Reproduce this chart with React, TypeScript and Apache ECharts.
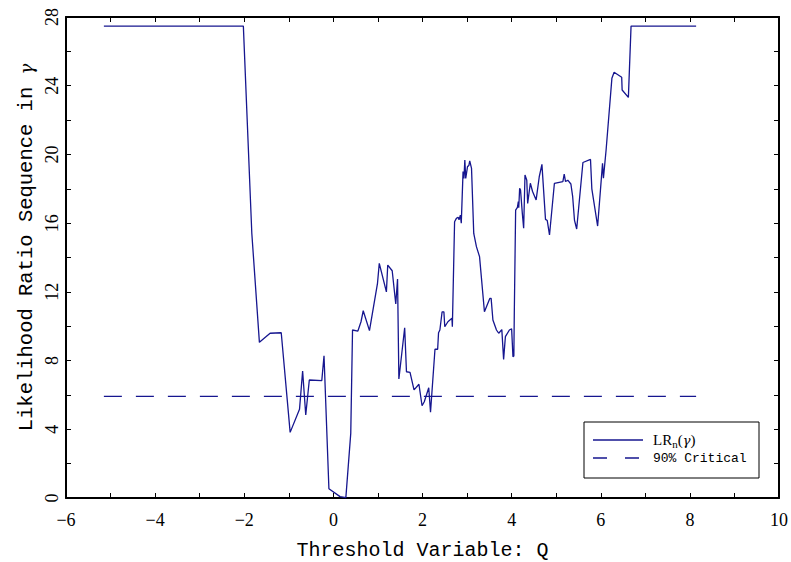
import React, { useEffect, useRef } from "react";
import * as echarts from "echarts";

// Threshold variable values (x) and LR sequence values (y)
const thresholdQ: number[] = [
  -5.15, -2.02, -1.83, -1.66, -1.42, -1.17, -0.97, -0.76, -0.69, -0.62, -0.54, -0.26, -0.21, -0.10,
  0.15, 0.28, 0.39, 0.43, 0.55, 0.62, 0.67, 0.81, 0.99, 1.03, 1.19, 1.22, 1.32, 1.40, 1.44, 1.47,
  1.60, 1.64, 1.72, 1.81, 1.92, 1.99, 2.04, 2.14, 2.18, 2.28, 2.34, 2.36, 2.39, 2.44, 2.48, 2.50,
  2.57, 2.66, 2.67, 2.72, 2.76, 2.80, 2.82, 2.85, 2.87, 2.91, 2.93, 2.95, 2.97, 3.01, 3.04, 3.06,
  3.10, 3.15, 3.21, 3.28, 3.39, 3.51, 3.54, 3.58, 3.66, 3.71, 3.78, 3.82, 3.86, 3.95, 4.00, 4.03,
  4.05, 4.06, 4.09, 4.13, 4.15, 4.16, 4.18, 4.20, 4.24, 4.27, 4.30, 4.34, 4.36, 4.42, 4.47, 4.55,
  4.62, 4.68, 4.76, 4.80, 4.85, 4.96, 5.15, 5.18, 5.21, 5.26, 5.33, 5.37, 5.41, 5.46, 5.60, 5.77,
  5.80, 5.93, 6.04, 6.06, 6.12, 6.25, 6.30, 6.47, 6.48, 6.62, 6.68, 8.14,
];
const lrValues: number[] = [
  27.47, 27.47, 15.4, 9.06, 9.59, 9.62, 3.82, 5.16, 7.39, 4.83, 6.87, 6.83, 8.28, 0.54,
  0.08, 0.02, 3.76, 9.78, 9.72, 10.26, 10.9, 9.74, 12.5, 13.66, 12.0, 13.56, 13.23, 11.29, 12.75, 6.93,
  9.91, 7.35, 7.31, 6.29, 6.62, 5.37, 5.6, 6.42, 4.99, 8.66, 8.66, 9.62, 9.78, 10.84, 10.84, 9.97,
  10.26, 10.46, 9.97, 16.08, 16.28, 16.34, 16.2, 16.47, 16.0, 19.0, 18.6, 19.67, 18.6, 19.29, 19.35, 19.63,
  19.19, 15.4, 14.63, 14.05, 10.84, 11.62, 11.62, 10.36, 9.78, 9.59, 9.8, 8.07, 9.39, 9.78, 9.85, 8.22,
  8.26, 10.75, 16.76, 16.92, 17.25, 16.9, 18.03, 17.93, 16.57, 15.7, 18.8, 18.5, 17.15, 18.32, 17.84, 17.35,
  18.7, 19.42, 16.22, 16.15, 15.31, 18.32, 18.42, 18.86, 18.42, 18.5, 18.28, 17.54, 16.18, 15.66, 19.53, 19.71,
  18.0, 15.83, 19.48, 18.61, 20.26, 24.43, 24.78, 24.49, 23.75, 23.32, 27.47, 27.47,
];
const criticalQ: number[] = [-5.15, 8.14];
const criticalValue = 5.92;

const xTicksMin = -6;
const xTicksMax = 10;
const yTicksMin = 0;
const yTicksMax = 28;
const yTickLabels: number[] = [0, 4, 8, 12, 16, 20, 24, 28];

const legendLabels: string[] = ["LRn(γ)", "90% Critical"];

const LINE_COLOR = "#16168f";
const DASH = [18, 14];

export default function App() {
  const ref = useRef<HTMLDivElement | null>(null);

  useEffect(() => {
    document.body.style.margin = "0";
    if (!ref.current) return;
    const chart = echarts.init(ref.current, undefined, { renderer: "svg" });

    const lrData = thresholdQ.map((q, i) => [q, lrValues[i]]);
    const critData = criticalQ.map((q) => [q, criticalValue]);

    const minus = (v: number) => (v < 0 ? "\u2212" + Math.abs(v) : String(v));

    const tickStyle = { show: true, inside: true, length: 5, lineStyle: { color: "#000", width: 1 } };
    const minorStyle = { show: true, splitNumber: 2, length: 5, lineStyle: { color: "#000", width: 1 } };
    const axisLine = { show: true, onZero: false, lineStyle: { color: "#000", width: 2 } };

    chart.setOption({
      animation: false,
      backgroundColor: "#fff",
      grid: { left: 66, right: 12, top: 17, bottom: 64, containLabel: false, outerBoundsMode: "none" },
      legend: { show: false },
      xAxis: [
        {
          type: "value",
          position: "bottom",
          min: xTicksMin,
          max: xTicksMax,
          interval: 2,
          axisLine,
          axisTick: tickStyle,
          minorTick: minorStyle,
          splitLine: { show: false },
          axisLabel: {
            margin: 13,
            formatter: minus,
            fontFamily: "Liberation Serif",
            fontSize: 18,
            color: "#000",
          },
          name: "Threshold Variable: Q",
          nameLocation: "middle",
          nameGap: 42,
          nameMoveOverlap: false,
          nameTextStyle: { fontFamily: "Liberation Mono", fontSize: 20, color: "#000" },
        },
        {
          type: "value",
          position: "top",
          min: xTicksMin,
          max: xTicksMax,
          interval: 2,
          axisLine,
          axisTick: tickStyle,
          minorTick: minorStyle,
          splitLine: { show: false },
          axisLabel: { show: false },
        },
      ],
      yAxis: [
        {
          type: "value",
          position: "left",
          min: yTicksMin,
          max: yTicksMax,
          interval: 4,
          axisLine,
          axisTick: tickStyle,
          minorTick: minorStyle,
          splitLine: { show: false },
          axisLabel: { show: false },
          name: "Likelihood Ratio Sequence in {g|γ}",
          nameLocation: "middle",
          nameGap: 29,
          nameTextStyle: {
            fontFamily: "Liberation Mono",
            fontSize: 20.5,
            color: "#000",
            padding: [0, 0, 0, 20],
            rich: { g: { fontFamily: "DejaVu Serif", fontStyle: "italic", fontSize: 18, color: "#000" } },
          },
        },
        {
          type: "value",
          position: "right",
          min: yTicksMin,
          max: yTicksMax,
          interval: 4,
          axisLine,
          axisTick: tickStyle,
          minorTick: minorStyle,
          splitLine: { show: false },
          axisLabel: { show: false },
        },
      ],
      series: [
        {
          name: legendLabels[0],
          type: "line",
          xAxisIndex: 0,
          yAxisIndex: 0,
          data: lrData,
          showSymbol: false,
          symbol: "none",
          lineStyle: { color: LINE_COLOR, width: 1.3 },
          itemStyle: { color: LINE_COLOR },
          z: 3,
        },
        {
          name: legendLabels[1],
          type: "line",
          xAxisIndex: 0,
          yAxisIndex: 0,
          data: critData,
          showSymbol: false,
          symbol: "none",
          lineStyle: { color: LINE_COLOR, width: 1.3, type: DASH },
          itemStyle: { color: LINE_COLOR },
          z: 2,
        },
      ],
    });

    // Rotated y tick labels, placed through the axis scale
    const yLabelEls = yTickLabels.map((v) => {
      const py = chart.convertToPixel({ yAxisIndex: 0 }, v) as number;
      return {
        type: "text",
        x: 61,
        y: py,
        rotation: Math.PI / 2,
        z: 50,
        style: {
          text: String(v),
          align: "center",
          verticalAlign: "bottom",
          fontFamily: "Liberation Serif",
          fontSize: 18,
          fill: "#000",
        },
      };
    });

    const LX = 584, LY = 422, LW = 175, LH = 56;
    const legendGroup = {
      type: "group",
      z: 100,
      children: [
        { type: "rect", shape: { x: LX, y: LY, width: LW, height: LH }, style: { fill: "#fff", stroke: "#000", lineWidth: 1 } },
        { type: "line", shape: { x1: LX + 9, y1: LY + 18, x2: LX + 59, y2: LY + 18 }, style: { stroke: LINE_COLOR, lineWidth: 1.3 } },
        { type: "line", shape: { x1: LX + 9, y1: LY + 36, x2: LX + 59, y2: LY + 36 }, style: { stroke: LINE_COLOR, lineWidth: 1.3, lineDash: [14, 18] } },
        {
          type: "text",
          x: LX + 69,
          y: LY + 18,
          style: {
            text: "{a|LR}{s|n}{a|(}{g|γ}{a|)}",
            verticalAlign: "middle",
            rich: {
              a: { fontFamily: "Liberation Serif", fontSize: 15, fill: "#000" },
              g: { fontFamily: "DejaVu Serif", fontStyle: "italic", fontSize: 13, fill: "#000" },
              s: { fontFamily: "Liberation Serif", fontSize: 11, fill: "#000", padding: [7, 0, 0, 0] },
            },
          },
        },
        {
          type: "text",
          x: LX + 69,
          y: LY + 36,
          style: { text: legendLabels[1], verticalAlign: "middle", fontFamily: "Liberation Mono", fontSize: 13, fill: "#000" },
        },
      ],
    };

    chart.setOption({ graphic: [legendGroup, ...yLabelEls] });

    return () => {
      chart.dispose();
    };
  }, []);

  return <div ref={ref} style={{ width: 791, height: 562 }} />;
}
